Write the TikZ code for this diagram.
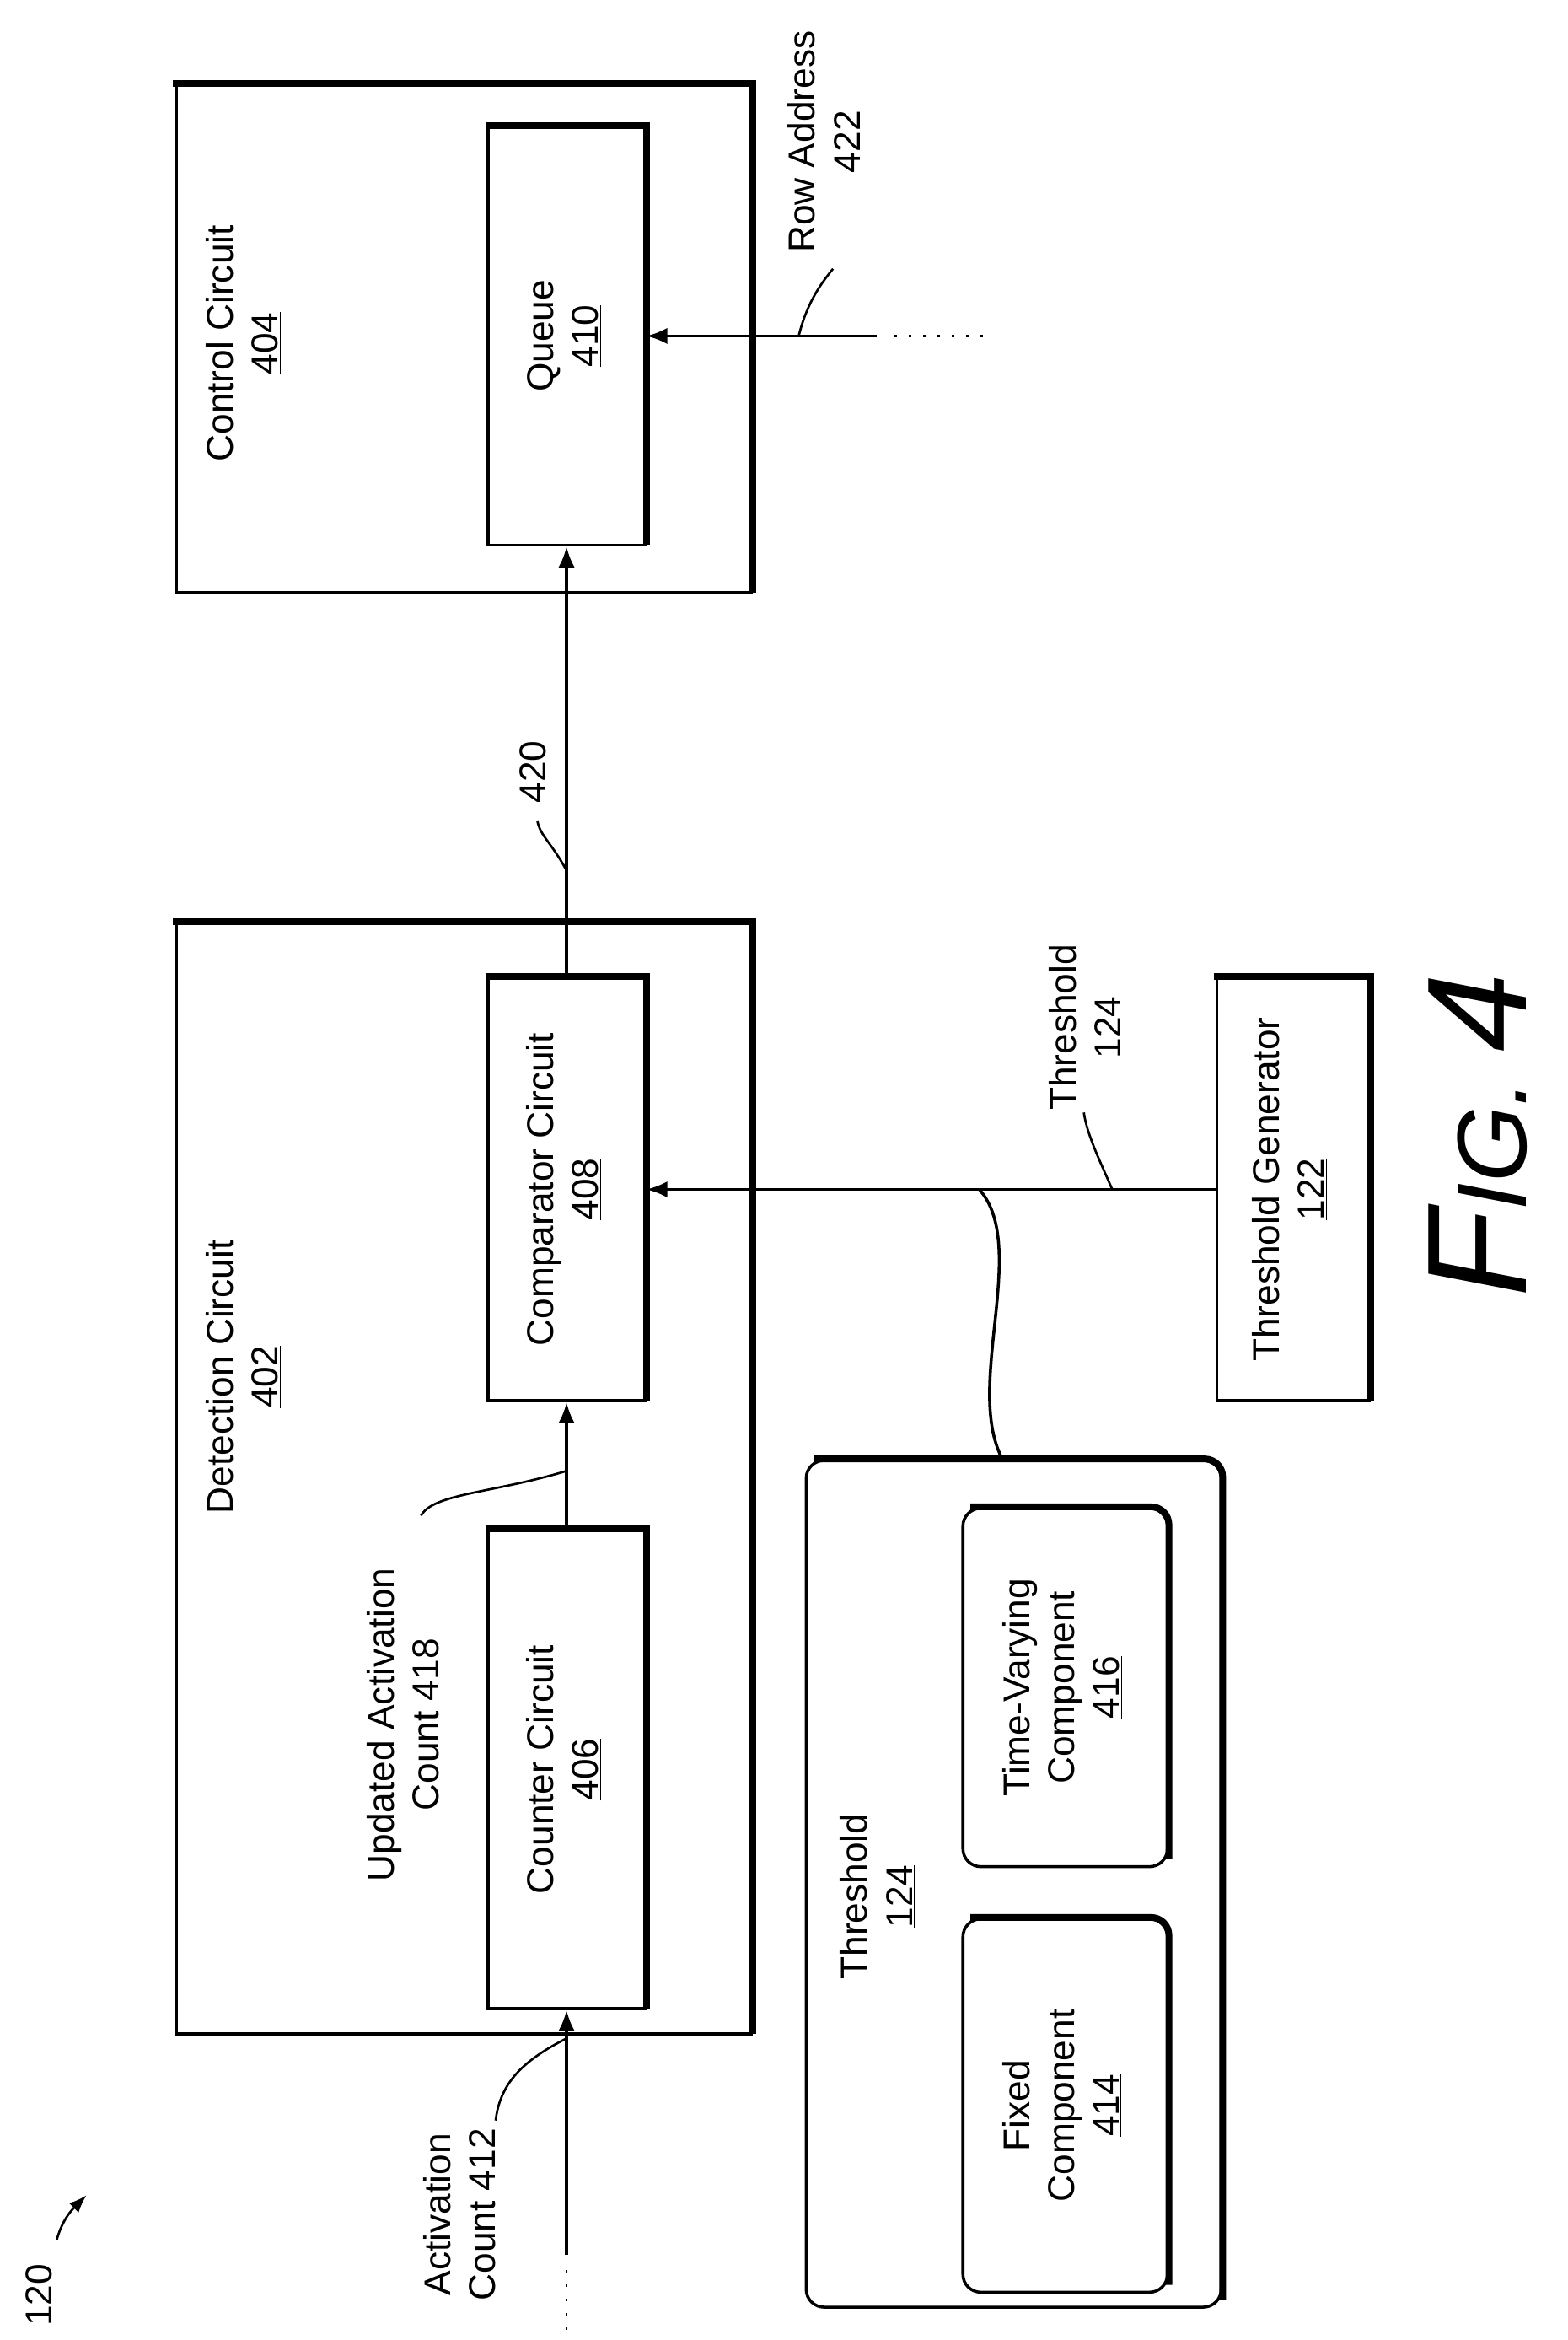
\documentclass[tikz,border=0pt]{standalone}
\usepackage{fontspec}
\setmainfont{Liberation Sans}
\usetikzlibrary{arrows.meta}

\tikzset{
  box/.style={draw, line width=2pt, inner sep=0pt},
  rbox/.style={box, rounded corners=12pt},
  heavy/.style={line width=4.5pt},
  arr/.style={line width=2pt, -{Latex[length=14pt,width=11pt]}},
  lead/.style={line width=1.5pt},
  dots/.style={line width=1.6pt, dash pattern=on 1.6pt off 8pt},
  txt/.style={font=\fontsize{25}{30}\selectfont, align=center}
}
\newcommand{\rt}[1]{\rotatebox{90}{\begin{tabular}{c}#1\end{tabular}}}

\begin{document}
\begin{tikzpicture}[x=1pt,y=-1pt]
	\useasboundingbox (0,0) rectangle (1050,1567);
	% outer circuits
	\node[box, minimum width=385, minimum height=340] (cc) at (310.5,227) {};
	\node[txt] (cclabel) at (165,230) {\rt{Control Circuit\\\underline{404}}};
	\node[box, minimum width=385, minimum height=744] (dc) at (310.5,990) {};
	\node[txt] (dclabel) at (165,922) {\rt{Detection Circuit\\\underline{402}}};
	% inner blocks
	\node[box, minimum width=105, minimum height=280, txt] (q) at (379.5,225) {\rt{Queue\\\underline{410}}};
	\node[box, minimum width=105, minimum height=283, txt] (cmp) at (379.5,796.5) {\rt{Comparator Circuit\\\underline{408}}};
	\node[box, minimum width=105, minimum height=320, txt] (cnt) at (379.5,1185) {\rt{Counter Circuit\\\underline{406}}};
	\node[box, minimum width=102, minimum height=283, txt] (tg) at (866,796.5) {\rt{Threshold Generator\\\underline{122}}};
	% threshold
	\node[rbox, minimum width=278, minimum height=567] (th) at (679,1261.5) {};
	\node[txt] (thlabel) at (590,1270) {\rt{Threshold\\\underline{124}}};
	\node[rbox, minimum width=137, minimum height=240, txt] (tv) at (713.5,1130) {\rt{Time-Varying\\Component\\\underline{416}}};
	\node[rbox, minimum width=137, minimum height=250, txt] (fx) at (713.5,1410) {\rt{Fixed\\Component\\\underline{414}}};

	% shadow edges
	\foreach \n in {cc,dc,q,cmp,cnt,tg}
		\draw[heavy] ([xshift=-1pt]\n.north west) -- (\n.north east) -- ([yshift=1pt]\n.south east);
	\foreach \n in {th,tv,fx}
		\draw[heavy, rounded corners=12pt] ([xshift=6pt]\n.north west) -- (\n.north east) -- ([yshift=6pt]\n.south east);

	% connectors
	\draw[arr] (cmp.north) -- (q.south);
	\draw[arr] (cnt.north) -- (cmp.south);
	\coordinate (actin) at (379.5,1510);
	\draw[arr] (actin) -- (cnt.south);
	\draw[dots] ([yshift=-10pt]actin) -- ++(0,48);
	\coordinate (rowin) at (587,225);
	\draw[arr] (rowin) -- (q.east);
	\draw[dots] ([xshift=12pt]rowin) -- ++(62,0);
	\draw[arr] (tg.west) -- (cmp.east);
	\coordinate (wtop) at (656,796.5);
	\coordinate (wbot) at (672,978);
	\draw[line width=2pt] (wtop) .. controls (690,835) and (645,930) .. (wbot);

	% labels with leaders
	\node[txt] (lrow) at (555,95) {\rt{Row Address\\422}};
	\draw[lead] (535,225) .. controls (540,205) and (548,192) .. (558,180);
	\node[font=\fontsize{25}{30}\selectfont, rotate=90] (l420) at (357,517) {420};
	\draw[lead] (379.5,583) .. controls (370,565) and (362,560) .. (360,550);
	\node[txt] (lthr) at (730,688) {\rt{Threshold\\124}};
	\draw[lead] (745,796.5) .. controls (738,780) and (728,760) .. (726,745);
	\node[txt] (lupd) at (273,1155) {\rt{Updated Activation\\Count 418}};
	\draw[lead] (379.5,985) .. controls (330,1000) and (290,1000) .. (282,1015);
	\node[txt] (lact) at (311,1483) {\rt{Activation\\Count 412}};
	\draw[lead] (379.5,1365) .. controls (350,1380) and (335,1395) .. (332,1420);

	% figure reference
	\node[font=\fontsize{25}{30}\selectfont, rotate=90] (ref) at (26,1537) {120};
	\draw[lead, -{Latex[length=12pt,width=9pt]}] (38,1500) .. controls (42,1485) and (50,1478) .. (58,1470);
	\node[rotate=90, font=\itshape] (fig) at (990,760) {\fontsize{95}{95}\selectfont F\fontsize{66}{66}\selectfont IG. \fontsize{95}{95}\selectfont 4};
\end{tikzpicture}
\end{document}
